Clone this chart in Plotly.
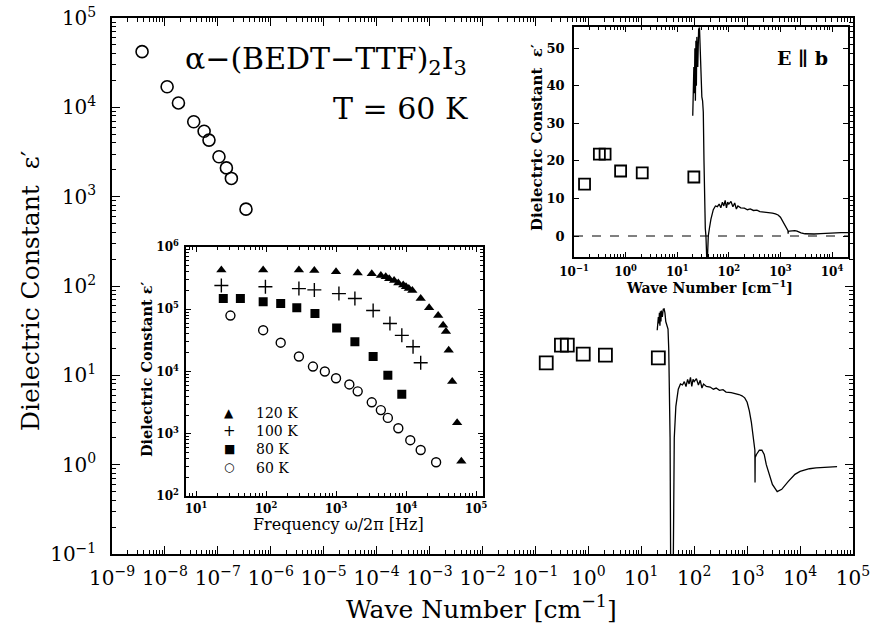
import plotly.graph_objects as go

# ---------------- data ----------------
# main panel: 60 K low-frequency data converted to wave number
circ_wn = [3.7e-9, 1.1e-8, 1.8e-8, 3.5e-8, 5.5e-8, 6.8e-8, 1.05e-7, 1.45e-7, 1.8e-7, 3.4e-7]
circ_eps = [4.2e4, 1.7e4, 1.12e4, 6.9e3, 5.4e3, 4.3e3, 2.8e3, 2.1e3, 1.6e3, 725]

# microwave / mm-wave points (squares)
sq_wn = [0.16, 0.31, 0.40, 0.80, 2.1, 21]
sq_eps = [13.8, 21.8, 21.8, 17.3, 16.8, 15.7]

# optical spectrum (E || b)
spec_wn = [20, 21, 21.5, 22, 22.5, 23, 23.5, 24, 25, 26, 27, 28, 29, 30, 31, 32, 33, 34, 35,
           36, 37, 38, 39, 40, 42, 45, 50, 55, 60, 65, 70, 75, 80, 85, 90, 95, 100, 110,
           120, 130, 140, 150, 170, 200, 230, 260, 300, 350, 400, 500, 600, 700, 800, 900,
           1000, 1100, 1200, 1300, 1350, 1400, 1410, 1420, 1500, 1700, 1900, 2100, 2300,
           2500, 3000, 3700, 4500, 6000, 8000, 10000, 15000, 20000, 30000, 50000]
spec_eps = [32, 45, 38, 50, 36, 52, 40, 53, 45, 55, 55.5, 50, 40, 37, 36, 33, 20, 8, 2,
            0.05, -3, -9, -4, 0.05, 2, 4.5, 7, 8, 7.8, 8.5, 7.5, 9, 8, 9.5, 7.5, 9, 8.5, 9.2,
            7.8, 8.8, 7.2, 8, 7.5, 7.4, 7, 7.2, 6.8, 6.9, 6.5, 6.4, 6.3, 6.1, 5.9, 5.6,
            5.0, 4.0, 3.0, 2.0, 1.6, 1.45, 0.63, 1.2, 1.3, 1.45, 1.45, 1.3, 1.0,
            0.85, 0.6, 0.5, 0.53, 0.65, 0.78, 0.84, 0.9, 0.92, 0.94, 0.95]

# lower-left inset: frequency dependence
f120 = [23, 91, 295, 490, 1000, 2040, 3240, 4370, 5130, 5750, 6760, 7760, 9120, 10000,
        10960, 12300, 16200, 21400, 28800, 33900, 37200, 40700, 45700, 53700, 61700]
eps120 = [4.27e5, 4.27e5, 4.27e5, 4.17e5, 3.98e5, 3.80e5, 3.72e5, 3.47e5, 3.31e5, 3.09e5,
          2.88e5, 2.63e5, 2.45e5, 2.29e5, 2.14e5, 2.0e5, 1.48e5, 1.05e5, 7.9e4, 5.5e4,
          4.4e4, 2.2e4, 6.9e3, 1.5e3, 363]
f100 = [23, 98, 295, 490, 1100, 1860, 3390, 5890, 8710, 12600, 16200]
eps100 = [2.4e5, 2.29e5, 2.14e5, 2.04e5, 1.78e5, 1.48e5, 9.5e4, 5.9e4, 3.8e4, 2.5e4, 1.38e4]
f80 = [24.5, 43, 91, 162, 275, 500, 1020, 1860, 3390, 5500, 8700]
eps80 = [1.48e5, 1.48e5, 1.32e5, 1.23e5, 1.05e5, 8.5e4, 5.0e4, 3.0e4, 1.74e4, 8.7e3, 4.3e3]
f60 = [31, 91, 162, 295, 468, 692, 1000, 1550, 2040, 3240, 4370, 5500, 7760, 11500, 16200, 26900]
eps60 = [7.9e4, 4.6e4, 2.9e4, 1.74e4, 1.2e4, 1.0e4, 7.8e3, 6.2e3, 4.8e3, 3.2e3, 2.4e3,
         1.8e3, 1.23e3, 790, 550, 350]

legend_labels = ["120 K", "100 K", "80 K", "60 K"]
legend_glyphs = ["\u25b2", "+", "\u25a0", "\u25cb"]

# tick labels
main_x_exp = list(range(-9, 6))
main_y_exp = list(range(-1, 6))
ins1_x_exp = list(range(-1, 5))
ins1_y_ticks = [0, 10, 20, 30, 40, 50]
ins2_x_exp = list(range(1, 6))
ins2_y_exp = list(range(2, 7))


def pw(e):
    return "10<sup>%s</sup>" % (str(e) if e >= 0 else "\u2212" + str(-e))


SERIF = "DejaVu Serif"
BLACK = "black"

fig = go.Figure()

# main panel traces
fig.add_trace(go.Scatter(x=circ_wn, y=circ_eps, mode="markers", xaxis="x", yaxis="y",
                         marker=dict(symbol="circle-open", size=12, color=BLACK, line=dict(width=1.6))))
fig.add_trace(go.Scatter(x=sq_wn, y=sq_eps, mode="markers", xaxis="x", yaxis="y",
                         marker=dict(symbol="square-open", size=13, color=BLACK, line=dict(width=1.8))))
fig.add_trace(go.Scatter(x=spec_wn, y=spec_eps, mode="lines", xaxis="x", yaxis="y",
                         line=dict(color=BLACK, width=1.3), connectgaps=False))

# upper-right inset
fig.add_trace(go.Scatter(x=sq_wn, y=sq_eps, mode="markers", xaxis="x2", yaxis="y2",
                         marker=dict(symbol="square-open", size=11, color=BLACK, line=dict(width=1.8))))
fig.add_trace(go.Scatter(x=spec_wn, y=spec_eps, mode="lines", xaxis="x2", yaxis="y2",
                         line=dict(color=BLACK, width=1.3)))

# lower-left inset
fig.add_trace(go.Scatter(x=f120, y=eps120, mode="markers", xaxis="x3", yaxis="y3", name="120 K",
                         marker=dict(symbol="triangle-up", size=9, color=BLACK)))
fig.add_trace(go.Scatter(x=f100, y=eps100, mode="markers", xaxis="x3", yaxis="y3", name="100 K",
                         marker=dict(symbol="cross-thin-open", size=10, color=BLACK,
                                     line=dict(width=1.4, color=BLACK))))
fig.add_trace(go.Scatter(x=f80, y=eps80, mode="markers", xaxis="x3", yaxis="y3", name="80 K",
                         marker=dict(symbol="square", size=9, color=BLACK)))
fig.add_trace(go.Scatter(x=f60, y=eps60, mode="markers", xaxis="x3", yaxis="y3", name="60 K",
                         marker=dict(symbol="circle-open", size=9, color=BLACK, line=dict(width=1.4))))


def minor(n):
    return dict(ticks="inside", ticklen=n, tickcolor=BLACK, tickwidth=1, dtick="D1", showgrid=False)


common = dict(showline=True, linecolor=BLACK, linewidth=1.5, mirror="allticks", ticks="inside",
              tickcolor=BLACK, tickwidth=1, showgrid=False, zeroline=False, automargin=False,
              ticklabeloverflow="allow")
small_tick = dict(size=12, family=SERIF, weight="bold", color=BLACK)

fig.update_layout(
    template="none",
    width=872, height=635,
    margin=dict(l=112, r=19, t=18, b=81, autoexpand=False),
    paper_bgcolor="white", plot_bgcolor="white",
    showlegend=False,
    font=dict(family=SERIF, color=BLACK),
    xaxis=dict(type="log", range=[-9, 5], domain=[0, 1], anchor="y",
               tickmode="array", tickvals=[10.0 ** e for e in main_x_exp],
               ticktext=[pw(e) for e in main_x_exp], ticklen=8, ticklabelstandoff=5,
               tickfont=dict(size=20, family=SERIF, color=BLACK), minor=minor(4), **common),
    yaxis=dict(type="log", range=[-1, 5], domain=[0, 1], anchor="x",
               tickmode="array", tickvals=[10.0 ** e for e in main_y_exp],
               ticktext=[pw(e) for e in main_y_exp], ticklen=8, ticklabelstandoff=10,
               tickfont=dict(size=20, family=SERIF, color=BLACK), minor=minor(4), **common),
    xaxis2=dict(type="log", range=[-1, 4.31], domain=[0.6235, 0.9933], anchor="y2",
                tickmode="array", tickvals=[10.0 ** e for e in ins1_x_exp],
                ticktext=[pw(e) for e in ins1_x_exp], ticklen=5, ticklabelstandoff=3,
                tickfont=small_tick, minor=minor(3), **common),
    yaxis2=dict(range=[-5.6, 55.6], domain=[0.554, 0.983], anchor="x2",
                tickmode="array", tickvals=ins1_y_ticks, ticklen=5, ticklabelstandoff=5,
                tickfont=dict(size=13, family=SERIF, weight="bold", color=BLACK), **common),
    xaxis3=dict(type="log", range=[0.857, 5.1], domain=[0.0999, 0.5007], anchor="y3",
                tickmode="array", tickvals=[10.0 ** e for e in ins2_x_exp],
                ticktext=[pw(e) for e in ins2_x_exp], ticklen=5, ticklabelstandoff=1,
                tickfont=small_tick, minor=minor(3), **common),
    yaxis3=dict(type="log", range=[2, 6], domain=[0.108, 0.573], anchor="x3",
                tickmode="array", tickvals=[10.0 ** e for e in ins2_y_exp],
                ticktext=[pw(e) for e in ins2_y_exp], ticklen=5, ticklabelstandoff=3,
                tickfont=small_tick, minor=minor(3), **common),
    shapes=[dict(type="line", xref="x2 domain", yref="y2", x0=0, x1=1, y0=0, y1=0,
                 line=dict(color=BLACK, width=1, dash="dash"))],
)

ann = [
    dict(text="Dielectric Constant  \u03b5\u2032", x=-0.1107, y=0.4925, textangle=-90,
         font=dict(size=25)),
    dict(text="Wave Number [cm<sup>\u22121</sup>]", x=0.498, y=-0.1007, font=dict(size=25)),
    dict(text="\u03b1\u2212(BEDT\u2212TTF)<sub>2</sub>I<sub>3</sub>", x=0.289, y=0.9216,
         font=dict(size=30)),
    dict(text="T = 60 K", x=0.389, y=0.832, font=dict(size=30)),
    dict(text="Dielectric Constant  \u03b5\u2032", x=0.5735, y=0.778, textangle=-90,
         font=dict(size=15, weight="bold")),
    dict(text="Wave Number [cm<sup>\u22121</sup>]", x=0.807, y=0.498,
         font=dict(size=14, weight="bold")),
    dict(text="E \u2225 b", x=0.9325, y=0.925, font=dict(size=19, weight="bold")),
    dict(text="Dielectric Constant \u03b5\u2032", x=0.0459, y=0.345, textangle=-90,
         font=dict(size=14.5, weight="bold")),
    dict(text="Frequency \u03c9/2\u03c0 [Hz]", x=0.305, y=0.0545, font=dict(size=16)),
]
for a in ann:
    a.update(xanchor="center")

# manual legend for lower-left inset (window pixel rows converted to paper fractions)
leg_rows_y = [413, 431, 449, 467]
for glyph, ry in zip(legend_glyphs, leg_rows_y):
    ann.append(dict(text=glyph, x=(229 - 112) / 741.0, y=(554 - ry) / 536.0, xanchor="center",
                    font=dict(size=12 if glyph != "+" else 15, family="DejaVu Sans")))
ann.append(dict(text="<br>".join(legend_labels), x=(254 - 112) / 741.0,
                y=(554 - (leg_rows_y[0] + leg_rows_y[-1]) / 2.0) / 536.0,
                xanchor="left", align="left", font=dict(size=14)))

for a in ann:
    a.update(xref="paper", yref="paper", showarrow=False, yanchor="middle")
    a["font"].setdefault("family", SERIF)
    a["font"].setdefault("color", BLACK)
fig.update_layout(annotations=ann)

# remove the browser's default body margin so the figure starts at the window corner
fig.write_html("out.html", config={"displayModeBar": False},
               post_script="document.body.style.margin='0';document.body.style.overflow='hidden';")
